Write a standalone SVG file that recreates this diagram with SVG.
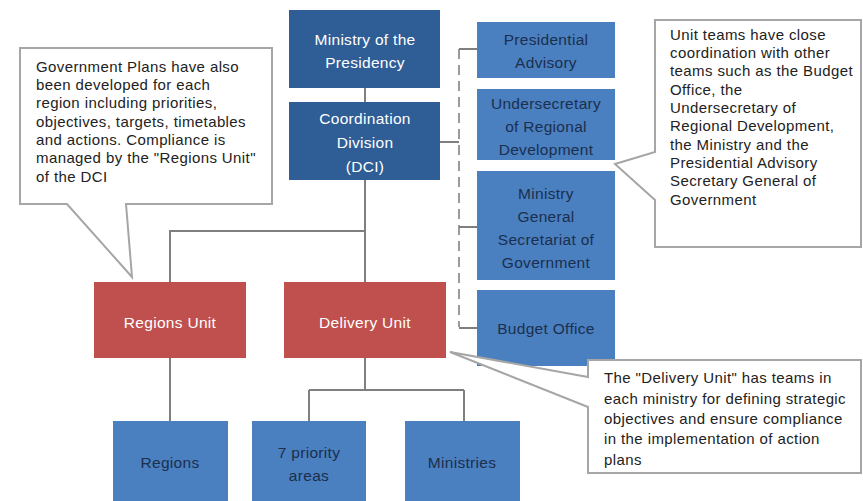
<svg xmlns="http://www.w3.org/2000/svg" width="863" height="501" viewBox="0 0 863 501">
<style>
.dark{fill:#2f5d96}
.light{fill:#4a7fc0}
.red{fill:#c0504d}
.wt{fill:#ffffff;font-family:"Liberation Sans",Arial,sans-serif;font-size:15.5px;letter-spacing:0.3px;text-anchor:middle}
.dt{fill:#1b2f4e;font-family:"Liberation Sans",Arial,sans-serif;font-size:15.5px;letter-spacing:0.3px;text-anchor:middle}
.ct{fill:#222222;font-family:"Liberation Sans",Arial,sans-serif;font-size:15px;letter-spacing:0.4px}
.line{stroke:#7f7f7f;stroke-width:2;fill:none}
.dash{stroke:#9a9a9a;stroke-width:2;fill:none;stroke-dasharray:10 6}
.call{fill:#ffffff;stroke:#a6a6a6;stroke-width:2}
</style>
<rect width="863" height="501" fill="#ffffff"/>
<g id="connectors">
<path class="line" d="M365,88 V102 M365,180 V282 M365,231 H170 V282 M170,358 V421 M365,358 V390 M309,390 H464 M309,390 V421 M464,390 V421"/>
<path class="dash" d="M459,49 V327"/>
<path class="line" d="M459,49 H477 M440,142 H459 M459,227 H477 M459,328 H477" stroke="#9a9a9a"/>
</g>
<g id="ministry-presidency"><rect class="dark" x="289" y="10" width="151" height="78"/><text class="wt" x="365" y="45">Ministry of the</text><text class="wt" x="365" y="68">Presidency</text></g>
<g id="coordination-division"><rect class="dark" x="289" y="102" width="151" height="78"/><text class="wt" x="365" y="124">Coordination</text><text class="wt" x="365" y="148">Division</text><text class="wt" x="365" y="172">(DCI)</text></g>
<g id="presidential-advisory"><rect class="light" x="477" y="22" width="138" height="56"/><text class="dt" x="546" y="45">Presidential</text><text class="dt" x="546" y="68">Advisory</text></g>
<g id="undersecretary"><rect class="light" x="477" y="89" width="138" height="71"/><text class="dt" x="546" y="109">Undersecretary</text><text class="dt" x="546" y="132">of Regional</text><text class="dt" x="546" y="155">Development</text></g>
<g id="ministry-general"><rect class="light" x="477" y="171" width="138" height="109"/><text class="dt" x="546" y="199">Ministry</text><text class="dt" x="546" y="222">General</text><text class="dt" x="546" y="245">Secretariat of</text><text class="dt" x="546" y="268">Government</text></g>
<g id="budget-office"><rect class="light" x="477" y="290" width="138" height="76"/><text class="dt" x="546" y="334">Budget Office</text></g>
<g id="regions-unit"><rect class="red" x="94" y="282" width="152" height="76"/><text class="wt" x="170" y="328">Regions Unit</text></g>
<g id="delivery-unit"><rect class="red" x="284" y="282" width="162" height="76"/><text class="wt" x="365" y="328">Delivery Unit</text></g>
<g id="regions"><rect class="light" x="113" y="421" width="115" height="80"/><text class="dt" x="170" y="468">Regions</text></g>
<g id="priority-areas"><rect class="light" x="252" y="421" width="114" height="80"/><text class="dt" x="309" y="458">7 priority</text><text class="dt" x="309" y="481">areas</text></g>
<g id="ministries"><rect class="light" x="405" y="421" width="115" height="80"/><text class="dt" x="462" y="468">Ministries</text></g>
<g id="callout-left"><path class="call" d="M20,48 H272 V204 H126 L132,277 L67,204 H20 Z"/>
<text class="ct" x="36" y="72">Government Plans have also</text>
<text class="ct" x="36" y="90">been developed for each</text>
<text class="ct" x="36" y="108">region including priorities,</text>
<text class="ct" x="36" y="127">objectives, targets, timetables</text>
<text class="ct" x="36" y="145">and actions. Compliance is</text>
<text class="ct" x="36" y="163">managed by the "Regions Unit"</text>
<text class="ct" x="36" y="182">of the DCI</text></g>
<g id="callout-right"><path class="call" d="M655,20 H861 V247 H655 V200 L615,164 L655,152 Z"/>
<text class="ct" x="670" y="40">Unit teams have close</text>
<text class="ct" x="670" y="58">coordination with other</text>
<text class="ct" x="670" y="76">teams such as the Budget</text>
<text class="ct" x="670" y="95">Office, the</text>
<text class="ct" x="670" y="113">Undersecretary of</text>
<text class="ct" x="670" y="131">Regional Development,</text>
<text class="ct" x="670" y="150">the Ministry and the</text>
<text class="ct" x="670" y="168">Presidential Advisory</text>
<text class="ct" x="670" y="186">Secretary General of</text>
<text class="ct" x="670" y="205">Government</text></g>
<g id="callout-bottom"><path class="call" d="M588,360 H861 V473 H588 V407 L450,352 L588,377 Z"/>
<text class="ct" x="604" y="383">The "Delivery Unit" has teams in</text>
<text class="ct" x="604" y="404">each ministry for defining strategic</text>
<text class="ct" x="604" y="424">objectives and ensure compliance</text>
<text class="ct" x="604" y="444">in the implementation of action</text>
<text class="ct" x="604" y="465">plans</text></g>
</svg>
